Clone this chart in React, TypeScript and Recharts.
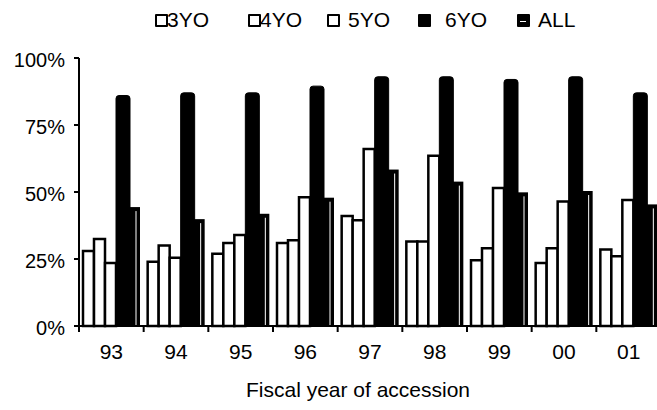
import { Bar, BarChart, XAxis, YAxis } from 'recharts'

const years = ['93', '94', '95', '96', '97', '98', '99', '00', '01']
const yo3 = [28, 24, 27, 31, 41, 31.5, 24.5, 23.5, 28.5]
const yo4 = [32.5, 30, 31, 32, 39.5, 31.5, 29, 29, 26]
const yo5 = [23.5, 25.5, 34, 48, 66, 63.5, 51.5, 46.5, 47]
const yo6 = [86, 87, 87, 89.5, 93, 93, 92, 93, 87]
const allAges = [44, 39.5, 41.5, 47.5, 58, 53.5, 49.5, 50, 45]
const yTicks = [0, 25, 50, 75, 100]

const data = years.map((year, i) => ({
  year,
  yo3: yo3[i],
  yo4: yo4[i],
  yo5: yo5[i],
  yo6: yo6[i],
  all: allAges[i],
}))

const FONT = '"Liberation Sans", Arial, sans-serif'
const W = 665
const H = 410
const MARGIN = { top: 58, right: 4, left: 15, bottom: 0 }
const Y_AXIS_W = 64
const PLOT_W = W - MARGIN.left - MARGIN.right - Y_AXIS_W

// legend swatch / text left edges
const legendItems = [
  { label: '3YO', kind: 'open', box: 155, text: 167 },
  { label: '4YO', kind: 'open', box: 248, text: 260 },
  { label: '5YO', kind: 'open', box: 327, text: 348 },
  { label: '6YO', kind: 'solid', box: 418, text: 445 },
  { label: 'ALL', kind: 'all', box: 517, text: 538 },
]

function AllShape(props: any) {
  const { x, y, width, height } = props
  if (!height || height <= 0) return null
  return (
    <g>
      <rect x={x} y={y} width={width} height={height} fill="#000" stroke="#000" strokeWidth={2} />
      <line x1={x + width - 3} x2={x + width - 3} y1={y + 3} y2={y + height} stroke="#fff" strokeWidth={1} />
    </g>
  )
}

function YearTick(props: any) {
  const { x, y, payload, index } = props
  const half = PLOT_W / years.length / 2
  return (
    <g>
      <line x1={x - half} x2={x - half} y1={y} y2={y + 6} stroke="#000" strokeWidth={2} />
      {index === years.length - 1 && (
        <line x1={x + half} x2={x + half} y1={y} y2={y + 6} stroke="#000" strokeWidth={2} />
      )}
      <text x={x} y={y + 25} dy="0.36em" textAnchor="middle" fontSize={21} fontFamily={FONT} fill="#000">
        {payload.value}
      </text>
    </g>
  )
}

function Legend() {
  return (
    <div style={{ position: 'absolute', top: 0, left: 0, fontFamily: FONT, fontSize: 21, color: '#000' }}>
      {legendItems.map((it) => (
        <div key={it.label}>
          <span
            style={{
              position: 'absolute',
              left: it.box,
              top: 14,
              width: 9,
              height: 9,
              border: '2px solid #000',
              borderRadius: 1,
              background: it.kind === 'open' ? '#fff' : '#000',
            }}
          />
          {it.kind === 'all' && (
            <span
              style={{
                position: 'absolute',
                left: it.box + 3,
                top: 21,
                width: 6,
                height: 1,
                background: '#fff',
              }}
            />
          )}
          <span style={{ position: 'absolute', left: it.text, top: 8, lineHeight: '24px' }}>{it.label}</span>
        </div>
      ))}
    </div>
  )
}

export default function App() {
  return (
    <div
      style={{
        position: 'fixed',
        left: 0,
        top: 0,
        width: 657,
        height: 410,
        overflow: 'hidden',
        background: '#fff',
      }}
    >
      <Legend />
      <BarChart width={W} height={H} data={data} margin={MARGIN} barGap={0} barCategoryGap={4}>
        <XAxis
          dataKey="year"
          tickLine={false}
          tickSize={0}
          tickMargin={0}
          height={84}
          axisLine={{ stroke: '#000', strokeWidth: 2 }}
          tick={<YearTick />}
          interval={0}
          label={{
            value: 'Fiscal year of accession',
            position: 'insideBottom',
            offset: 13,
            dx: -12,
            fontSize: 21,
            fontFamily: FONT,
            fill: '#000',
          }}
        />
        <YAxis
          domain={[0, 100]}
          ticks={yTicks}
          width={Y_AXIS_W}
          tickSize={5}
          tickMargin={9}
          tickFormatter={(v: number) => `${v}%`}
          axisLine={{ stroke: '#000', strokeWidth: 2 }}
          tickLine={{ stroke: '#000', strokeWidth: 2 }}
          tick={{ fontSize: 20, fontFamily: FONT, fill: '#000', dy: 2 }}
          interval={0}
        />
        <Bar dataKey="yo3" barSize={11} fill="#fff" stroke="#000" strokeWidth={2.5} isAnimationActive={false} />
        <Bar dataKey="yo4" barSize={11} fill="#fff" stroke="#000" strokeWidth={2.5} isAnimationActive={false} />
        <Bar dataKey="yo5" barSize={11} fill="#fff" stroke="#000" strokeWidth={2.5} isAnimationActive={false} />
        <Bar
          dataKey="yo6"
          barSize={14}
          fill="#000"
          stroke="#000"
          strokeWidth={1}
          radius={[3, 3, 0, 0]}
          isAnimationActive={false}
        />
        <Bar dataKey="all" barSize={9} shape={<AllShape />} isAnimationActive={false} />
      </BarChart>
    </div>
  )
}
